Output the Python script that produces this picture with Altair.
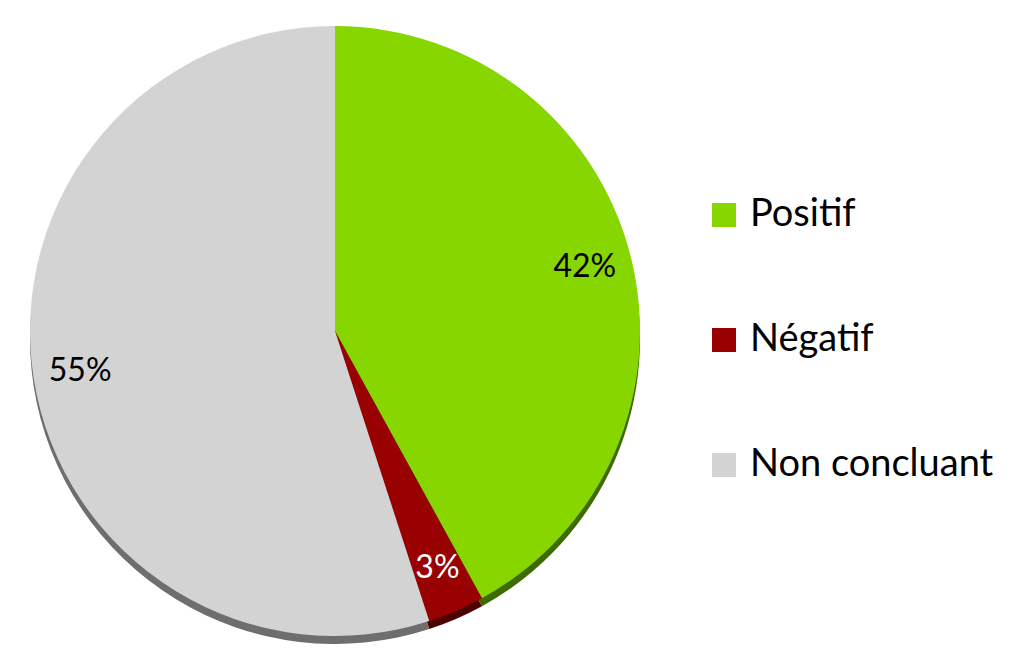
import altair as alt
import pandas as pd

categories = ["Positif", "Négatif", "Non concluant"]
values = [42, 3, 55]
colors = ["#88D600", "#990000", "#D3D3D3"]
shadow_colors = ["#3F6A00", "#4D0000", "#6E6E6E"]
label_colors = ["#000000", "#FFFFFF", "#000000"]

df = pd.DataFrame({
    "cat": categories,
    "val": values,
    "ord": list(range(len(categories))),
    "label": [f"{v}%" for v in values],
    "lc": label_colors,
    "sc": shadow_colors,
})

CX, CY, R = 327, 323, 305

base = alt.Chart(df).encode(
    theta=alt.Theta("val:Q", stack=True),
    order=alt.Order("ord:Q"),
)

shadow = base.mark_arc(radius=R).encode(
    x=alt.value(CX), y=alt.value(CY + 8),
    fill=alt.Fill("sc:N", scale=None),
)

pie = base.mark_arc(radius=R).encode(
    x=alt.value(CX), y=alt.value(CY),
    color=alt.Color(
        "cat:N",
        scale=alt.Scale(domain=categories, range=colors),
        sort=categories,
        legend=alt.Legend(
            title=None, orient="none", legendX=697, legendY=188,
            symbolType="square", symbolSize=576, symbolStrokeWidth=0,
            labelFontSize=38, labelFont="Lato", labelColor="#000000",
            labelLimit=500, rowPadding=87, labelOffset=7,
        ),
    ),
)

text = base.mark_text(radius=258, fontSize=32, font="Lato").encode(
    x=alt.value(CX), y=alt.value(CY),
    text="label:N",
    fill=alt.Fill("lc:N", scale=None),
)

chart = alt.layer(shadow, pie, text).properties(
    width=1008, height=648, autosize="none", padding=0
).configure_view(strokeWidth=0)

chart.save("out.html", embed_options={"renderer": "svg", "actions": False})
